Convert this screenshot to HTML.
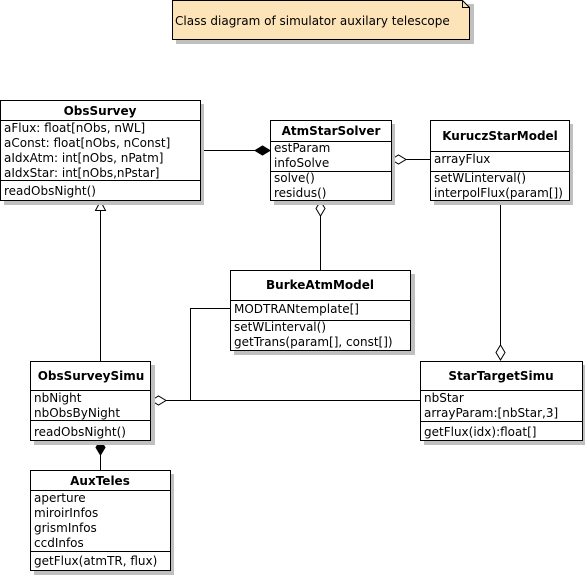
<!DOCTYPE html>
<html><head><meta charset="utf-8">
<style>
html,body{margin:0;padding:0;background:#fff;}
svg{display:block;}
text{font-family:"DejaVu Sans","Liberation Sans",sans-serif;font-size:12px;fill:#000;}
.t{font-weight:bold;text-anchor:middle;}
.b{fill:#fff;stroke:#000;stroke-width:1;}
.s{fill:#c0c0c0;}
.l{stroke:#000;stroke-width:1;fill:none;}
</style></head><body>
<svg width="585" height="575" viewBox="0 0 585 575" xmlns="http://www.w3.org/2000/svg">
<!-- note -->
<rect class="s" x="176" y="4" width="298" height="40"/>
<path d="M172.5 0.5 H462.5 L469.5 7.5 V39.5 H172.5 Z" fill="#fde3b8" stroke="#000"/>
<path d="M462.5 0.5 V7.5 H469.5" class="l"/>
<text x="175" y="25">Class diagram of simulator auxilary telescope</text>

<!-- connectors -->
<line class="l" x1="201" y1="150.5" x2="256" y2="150.5"/>
<path d="M255 150.5 L262.5 146 L270 150.5 L262.5 155 Z" fill="#000" stroke="#000"/>
<line class="l" x1="406" y1="159.5" x2="430" y2="159.5"/>
<path d="M391 159.5 L398.5 155 L406 159.5 L398.5 164 Z" fill="#fff" stroke="#000"/>
<line class="l" x1="320.5" y1="216" x2="320.5" y2="270"/>
<path d="M320.5 201 L325 208.5 L320.5 216 L316 208.5 Z" fill="#fff" stroke="#000"/>
<line class="l" x1="500.5" y1="201" x2="500.5" y2="345"/>
<path d="M500.5 345 L505 352.5 L500.5 360 L496 352.5 Z" fill="#fff" stroke="#000"/>
<line class="l" x1="100.5" y1="210" x2="100.5" y2="361"/>
<path d="M100.5 201 L105.5 210.5 L95.5 210.5 Z" fill="#fff" stroke="#000"/>
<line class="l" x1="166" y1="400.5" x2="420" y2="400.5"/>
<path d="M151 400.5 L158.5 396 L166 400.5 L158.5 405 Z" fill="#fff" stroke="#000"/>
<path class="l" d="M230 308.5 H190.5 V400.5"/>
<line class="l" x1="100.5" y1="455" x2="100.5" y2="470"/>
<path d="M100.5 440 L105 447.5 L100.5 455 L96 447.5 Z" fill="#000" stroke="#000"/>

<!-- ObsSurvey -->
<rect class="s" x="4" y="104" width="200" height="101"/>
<rect class="b" x="0.5" y="100.5" width="200" height="100"/>
<line class="l" x1="0" y1="120.5" x2="201" y2="120.5"/>
<line class="l" x1="0" y1="180.5" x2="201" y2="180.5"/>
<text class="t" x="100" y="115">ObsSurvey</text>
<text x="4" y="132">aFlux: float[nObs, nWL]</text>
<text x="4" y="147">aConst: float[nObs, nConst]</text>
<text x="4" y="162">aIdxAtm: int[nObs, nPatm]</text>
<text x="4" y="177">aIdxStar: int[nObs,nPstar]</text>
<text x="4" y="195">readObsNight()</text>

<!-- AtmStarSolver -->
<rect class="s" x="274" y="124" width="121" height="81"/>
<rect class="b" x="270.5" y="120.5" width="121" height="80"/>
<line class="l" x1="270" y1="141.5" x2="392" y2="141.5"/>
<line class="l" x1="270" y1="171.5" x2="392" y2="171.5"/>
<text class="t" x="331" y="135">AtmStarSolver</text>
<text x="274" y="152">estParam</text>
<text x="274" y="167">infoSolve</text>
<text x="274" y="182">solve()</text>
<text x="274" y="197">residus()</text>

<!-- KuruczStarModel -->
<rect class="s" x="434" y="124" width="139" height="81"/>
<rect class="b" x="430.5" y="120.5" width="139" height="80"/>
<line class="l" x1="430" y1="151.5" x2="570" y2="151.5"/>
<line class="l" x1="430" y1="171.5" x2="570" y2="171.5"/>
<text class="t" x="500" y="140">KuruczStarModel</text>
<text x="434" y="163">arrayFlux</text>
<text x="434" y="182">setWLinterval()</text>
<text x="434" y="197">interpolFlux(param[])</text>

<!-- BurkeAtmModel -->
<rect class="s" x="234" y="274" width="181" height="81"/>
<rect class="b" x="230.5" y="270.5" width="180" height="80"/>
<line class="l" x1="230" y1="300.5" x2="411" y2="300.5"/>
<line class="l" x1="230" y1="320.5" x2="411" y2="320.5"/>
<text class="t" x="320" y="289">BurkeAtmModel</text>
<text x="234" y="313">MODTRANtemplate[]</text>
<text x="234" y="331">setWLinterval()</text>
<text x="234" y="346">getTrans(param[], const[])</text>

<!-- ObsSurveySimu -->
<rect class="s" x="34" y="365" width="121" height="80"/>
<rect class="b" x="30.5" y="361.5" width="120" height="79"/>
<line class="l" x1="30" y1="390.5" x2="151" y2="390.5"/>
<line class="l" x1="30" y1="420.5" x2="151" y2="420.5"/>
<text class="t" x="91" y="380">ObsSurveySimu</text>
<text x="34" y="402">nbNight</text>
<text x="34" y="417">nbObsByNight</text>
<text x="34" y="436">readObsNight()</text>

<!-- StarTargetSimu -->
<rect class="s" x="424" y="365" width="161" height="80"/>
<rect class="b" x="420.5" y="361.5" width="162" height="79"/>
<line class="l" x1="420" y1="390.5" x2="583" y2="390.5"/>
<line class="l" x1="420" y1="421.5" x2="583" y2="421.5"/>
<text class="t" x="501" y="380">StarTargetSimu</text>
<text x="424" y="402">nbStar</text>
<text x="424" y="417">arrayParam:[nbStar,3]</text>
<text x="424" y="436">getFlux(idx):float[]</text>

<!-- AuxTeles -->
<rect class="s" x="34" y="474" width="140" height="101"/>
<rect class="b" x="30.5" y="470.5" width="140" height="100"/>
<line class="l" x1="30" y1="490.5" x2="171" y2="490.5"/>
<line class="l" x1="30" y1="551.5" x2="171" y2="551.5"/>
<text class="t" x="100" y="485">AuxTeles</text>
<text x="34" y="502">aperture</text>
<text x="34" y="517">miroirInfos</text>
<text x="34" y="532">grismInfos</text>
<text x="34" y="547">ccdInfos</text>
<text x="34" y="565">getFlux(atmTR, flux)</text>
</svg>
</body></html>
